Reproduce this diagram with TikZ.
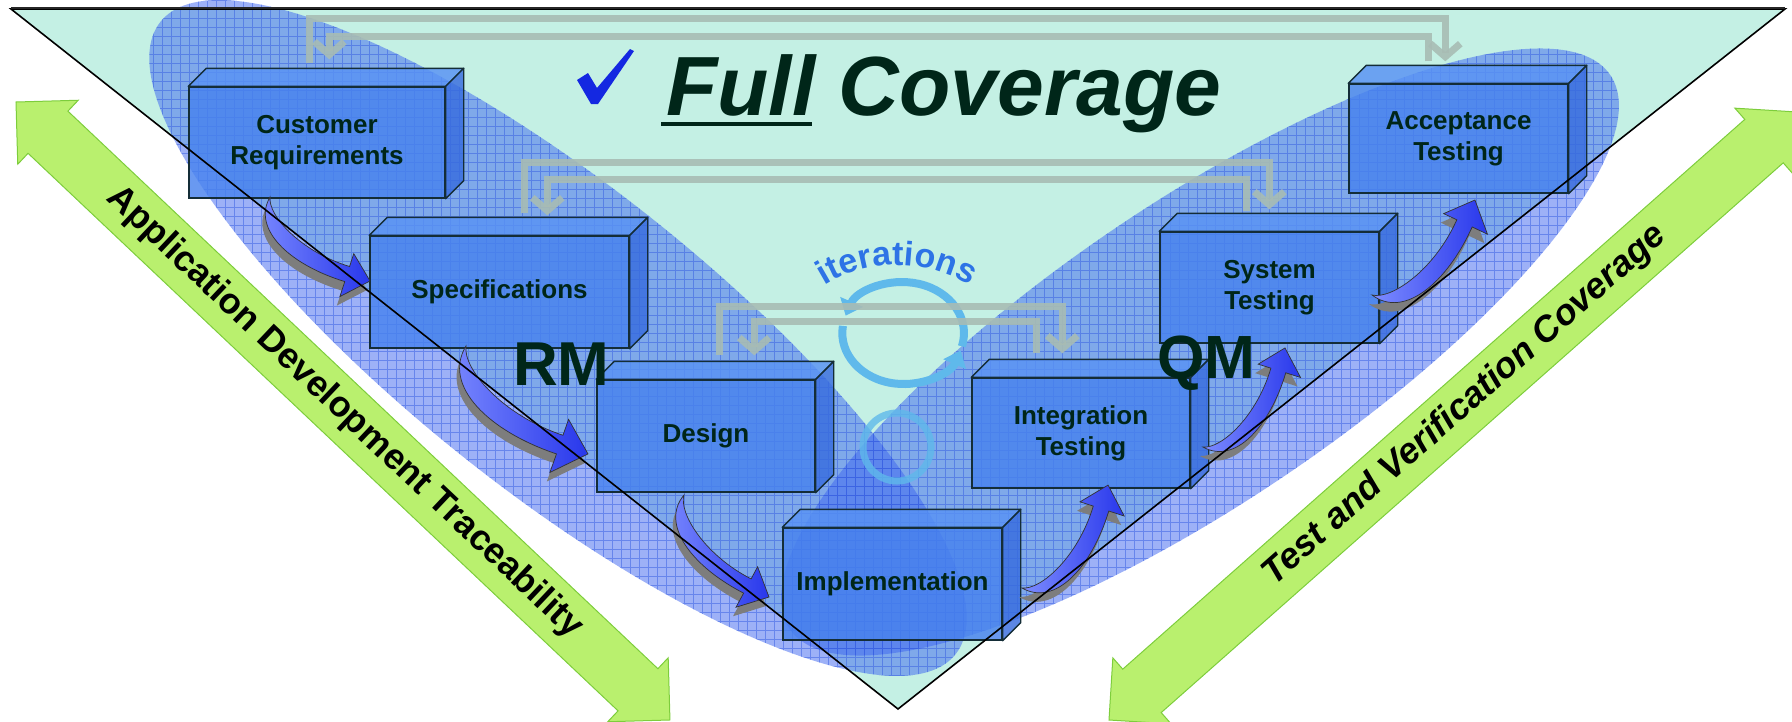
\documentclass[tikz,border=0pt]{standalone}
\usepackage{fontspec}
\setmainfont{Liberation Sans}
\usetikzlibrary{arrows.meta,calc,decorations.text}

\definecolor{tealbg}{RGB}{196,240,228}
\definecolor{ellblue}{RGB}{60,100,240}
\definecolor{gridblue}{RGB}{50,90,225}
\definecolor{boxfront}{RGB}{72,130,238}
\definecolor{boxtop}{RGB}{88,146,244}
\definecolor{boxside}{RGB}{56,108,222}
\definecolor{boxline}{RGB}{20,45,55}
\definecolor{railgray}{RGB}{168,188,180}
\definecolor{ringblue}{RGB}{95,185,235}
\definecolor{itblue}{RGB}{45,115,230}
\definecolor{darktxt}{RGB}{0,38,25}
\definecolor{greenfill}{RGB}{185,240,110}
\definecolor{greenline}{RGB}{125,205,60}
\definecolor{arrowdark}{RGB}{40,55,235}
\definecolor{arrowlight}{RGB}{125,140,255}
\definecolor{shadowgray}{RGB}{125,125,125}
\definecolor{checkblue}{RGB}{20,40,225}

\tikzset{
  bluearrow/.pic={
    \draw[line width=0.7pt, draw=black!80, left color=arrowlight, right color=arrowdark]
      (0,0) .. controls (0.05,0.28) and (0.45,0.30) .. (0.855,0.128)
      -- (0.90,0.24) -- (1,0) -- (0.77,-0.08) -- (0.809,0.016)
      .. controls (0.45,0.17) and (0.08,0.12) .. (0,0) -- cycle;
  },
  arrowshade/.pic={
    \fill[shadowgray]
      (0,0) .. controls (0.05,0.28) and (0.45,0.30) .. (0.855,0.128)
      -- (0.90,0.24) -- (1,0) -- (0.77,-0.08) -- (0.809,0.016)
      .. controls (0.45,0.17) and (0.08,0.12) .. (0,0) -- cycle;
  },
  box/.style={draw=boxline, line width=1.4pt, fill=boxfront, fill opacity=0.82,
    text opacity=1, text=darktxt, font=\fontsize{26}{31}\selectfont\bfseries,
    align=center, inner sep=0pt},
  topface/.style={draw=boxline, line width=1.4pt, fill=boxtop, fill opacity=0.82, line join=round},
  sideface/.style={draw=boxline, line width=1.4pt, fill=boxside, fill opacity=0.82, line join=round},
  rail/.style={draw=railgray, line width=7pt, draw opacity=0.9,
    -{Straight Barb[length=13pt,width=30pt]}},
  ellfill/.style={fill=ellblue, fill opacity=0.5},
  gridline/.style={draw=gridblue, draw opacity=0.5, line width=0.9pt},
  ring/.style={draw=ringblue, line width=8pt, -{Triangle[length=15pt,width=24pt]}},
  greenarrow/.style={fill=greenfill, draw=greenline, line width=1pt, line join=miter},
  greentext/.style={font=\fontsize{36}{36}\selectfont\bfseries, text=black, inner sep=0pt, transform shape},
  bigtxt/.style={text=darktxt, inner sep=0pt},
}

\newcommand{\boxfaces}[1]{%
  \path[topface] (#1.north west) -- ++(18,-18) -- ($(#1.north east)+(18,-18)$) -- (#1.north east) -- cycle;
  \path[sideface] (#1.north east) -- ++(18,-18) -- ($(#1.south east)+(18,-18)$) -- (#1.south east) -- cycle;}

\begin{document}
\begin{tikzpicture}[x=1pt,y=-1pt]
\useasboundingbox (0,0) rectangle (1792,721);
\clip (0,0) rectangle (1792,721);

% V background
\fill[tealbg] (11,9) -- (1785,9) -- (898,709) -- cycle;

% blue ellipses
\fill[ellfill, rotate around={-38.5:(558,338)}] (558,338) ellipse [x radius=508, y radius=152];
\fill[ellfill, rotate around={34:(1200,352)}] (1200,352) ellipse [x radius=495, y radius=150];
\begin{scope}
  \clip[rotate around={-38.5:(558,338)}] (558,338) ellipse [x radius=508, y radius=152];
  \draw[gridline, xstep=9pt, ystep=9pt] (0,721) grid (1792,0);
\end{scope}
\begin{scope}
  \clip[rotate around={34:(1200,352)}] (1200,352) ellipse [x radius=495, y radius=150];
  \draw[gridline, xstep=9pt, ystep=9pt] (0,721) grid (1792,0);
\end{scope}

% green double arrows
\begin{scope}[shift={(16,102)}, rotate=-43.38]
  \draw[greenarrow] (0,0) -- (44,44) -- (44,29) -- (855.8,29) -- (855.8,44) -- (899.8,0)
    -- (855.8,-44) -- (855.8,-29) -- (44,-29) -- (44,-44) -- cycle;
  \node[greentext] (adt) at (452,0) {Application Development Traceability};
\end{scope}
\begin{scope}[shift={(1109,720)}, rotate=41.47]
  \draw[greenarrow] (0,0) -- (44,44) -- (44,29) -- (874.2,29) -- (874.2,44) -- (918.2,0)
    -- (874.2,-44) -- (874.2,-29) -- (44,-29) -- (44,-44) -- cycle;
  \node[greentext, font=\fontsize{36}{36}\selectfont\bfseries\itshape] (tvc) at (475,0) {Test and Verification Coverage};
\end{scope}

% iterations rings
\draw[ring] (961.9,346.3) arc[start angle=15, end angle=-160, x radius=61, y radius=51];
\draw[ring] (842.9,325.9) arc[start angle=-172, end angle=-340, x radius=61, y radius=51];
\draw[draw=ringblue, draw opacity=0.8, line width=7pt] (897,447) circle [radius=34];
\path[decorate, decoration={text along path, text align=center, text color=itblue,
   text={|\fontsize{34}{34}\selectfont\bfseries|iterations}}]
   (821.8,287.3) arc[start angle=-123, end angle=-57, radius=138];

% boxes
\node[box, minimum width=256pt, minimum height=111pt] (cr) at (317,142.5) {Customer\\Requirements};
\boxfaces{cr}
\node[box, minimum width=259pt, minimum height=112pt] (sp) at (499.5,292) {Specifications};
\boxfaces{sp}
\node[box, minimum width=218pt, minimum height=112pt] (de) at (706,436) {Design};
\boxfaces{de}
\node[box, minimum width=219pt, minimum height=112pt] (im) at (892.5,584) {Implementation};
\boxfaces{im}
\node[box, minimum width=218pt, minimum height=110pt] (it) at (1081,433) {Integration\\Testing};
\boxfaces{it}
\node[box, minimum width=219pt, minimum height=111pt] (st) at (1269.5,287.5) {System\\Testing};
\boxfaces{st}
\node[box, minimum width=219pt, minimum height=109pt] (ac) at (1458.5,138.5) {Acceptance\\Testing};
\boxfaces{ac}

% grey feedback rails
\draw[rail] ($(cr.north west)+(121,-23)$) |- ($(ac.north west)+(97,-65)$) -- ($(ac.north west)+(97,-22)$);
\draw[rail] ($(ac.north west)+(80,-22)$) |- ($(cr.north west)+(141,-50)$) -- ($(cr.north west)+(141,-27)$);
\draw[rail] ($(sp.north west)+(155,-22)$) |- ($(st.north west)+(110,-69)$) -- ($(st.north west)+(110,-22)$);
\draw[rail] ($(st.north west)+(87,-20)$) |- ($(sp.north west)+(178,-56)$) -- ($(sp.north west)+(178,-20)$);
\draw[rail] ($(de.north west)+(123,-24)$) |- ($(it.north west)+(91,-71)$) -- ($(it.north west)+(91,-24)$);
\draw[rail] ($(it.north west)+(65,-24)$) |- ($(de.north west)+(158,-58)$) -- ($(de.north west)+(158,-24)$);

% curved block arrows between phases
\coordinate (a1t) at (270,197);
\coordinate (a2t) at (466,346);
\coordinate (a3t) at (684,495);
\coordinate (a4t) at (1022,588);
\coordinate (a5t) at (1203,447);
\coordinate (a6t) at (1372,295);
\pic[rotate=-40, scale=130.6] at ($(a1t)+(-3,9)$) {arrowshade};
\pic[rotate=-40, scale=130.6] (a1) at (a1t) {bluearrow};
\pic[rotate=-41.5, scale=162.9] at ($(a2t)+(-3,9)$) {arrowshade};
\pic[rotate=-41.5, scale=162.9] (a2) at (a2t) {bluearrow};
\pic[rotate=-50.2, scale=132.8] at ($(a3t)+(-3,9)$) {arrowshade};
\pic[rotate=-50.2, scale=132.8] (a3) at (a3t) {bluearrow};
\pic[rotate=50.1, scale=134.2] at ($(a4t)+(-3,9)$) {arrowshade};
\pic[rotate=50.1, scale=134.2] (a4) at (a4t) {bluearrow};
\pic[rotate=50.4, scale=128.6] at ($(a5t)+(-3,9)$) {arrowshade};
\pic[rotate=50.4, scale=128.6] (a5) at (a5t) {bluearrow};
\pic[rotate=42.7, scale=140.1] at ($(a6t)+(-3,9)$) {arrowshade};
\pic[rotate=42.7, scale=140.1] (a6) at (a6t) {bluearrow};

% V outline
\draw[line width=1.6pt, line join=miter] (11,9) -- (1785,9) -- (898,709) -- cycle;
\draw[line width=2.6pt, black!85] (11,8) -- (1785,8);

% title
\fill[checkblue] (577,80) -- (588,73) -- (597,88) -- (630,49) -- (634,51) -- (598,104) -- (591,104) -- cycle;
\node[bigtxt, anchor=base west, font=\fontsize{84}{84}\selectfont\bfseries\itshape] (title) at (666,115) {Full Coverage};
\draw[darktxt, line width=4pt] ($(title.base west)+(-5,9)$) -- ++(151,0);

\node[bigtxt, anchor=base west, font=\fontsize{62}{62}\selectfont\bfseries] (rm) at (513,385) {RM};
\node[bigtxt, anchor=base west, font=\fontsize{61}{61}\selectfont\bfseries] (qm) at (1157,378) {QM};
\end{tikzpicture}
\end{document}
